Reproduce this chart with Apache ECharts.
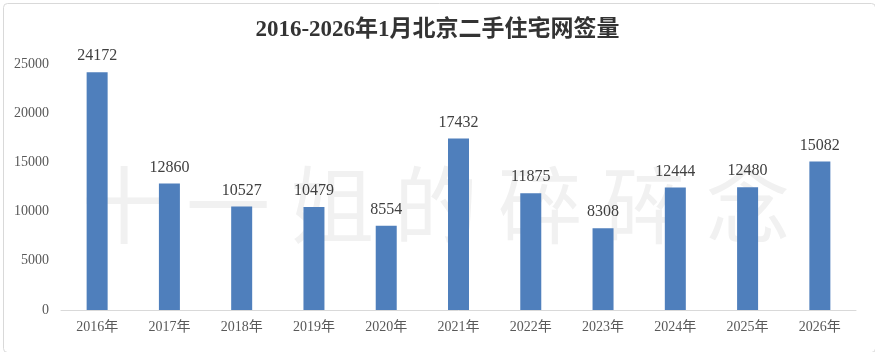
<!DOCTYPE html>
<html>
<head>
<meta charset="utf-8">
<script src="https://cdn.jsdelivr.net/npm/echarts@6/dist/echarts.min.js"></script>
<style>
html,body{margin:0;padding:0;background:#fff;}
#main{width:875px;height:352px;}
</style>
</head>
<body>
<div id="main"></div>
<script>
// 年份
var years = ['2016年','2017年','2018年','2019年','2020年','2021年','2022年','2023年','2024年','2025年','2026年'];
// 1月网签量
var deals = [24172, 12860, 10527, 10479, 8554, 17432, 11875, 8308, 12444, 12480, 15082];
var titleText = '2016-2026年1月北京二手住宅网签量';
var markText = '十一姐的碎碎念';

var serif = '"Liberation Serif", "Noto Sans CJK SC", serif';

//水印，逐字摆放
var graphics = [{
	type: 'rect', left: 1, top: 1, z: -10,
	shape: { width: 872, height: 349, r: 4 },
	style: { fill: 'none', stroke: '#d9d9d9', lineWidth: 1 }
}];
markText.split('').forEach(function(ch, i) {
	graphics.push({
		type: 'text', z: -5,
		x: 124 + i * 104, y: 205,
		style: {
			text: ch, font: '84px "Noto Sans CJK SC"', fill: '#f1f1f1',
			align: 'center', verticalAlign: 'middle'
		}
	});
});

var myChart = echarts.init(document.getElementById('main'));
var option = {
	backgroundColor: '#fff',
	animation: false,
	title: {
		text: titleText,
		left: 'center',
		top: 14,
		textStyle: { fontFamily: serif, fontSize: 23, fontWeight: 'bold', color: '#333' }
	},
	graphic: graphics,
	grid: { left: 61, right: 19, top: 64, bottom: 42 },
	xAxis: {
		type: 'category',
		data: years,
		axisLine: { lineStyle: { color: '#d9d9d9' } },
		axisTick: { show: false },
		axisLabel: { fontFamily: serif, fontSize: 14, color: '#595959', margin: 10 }
	},
	yAxis: {
		type: 'value',
		min: 0, max: 25000, interval: 5000,
		axisLine: { show: false },
		axisTick: { show: false },
		splitLine: { show: false },
		axisLabel: {
			fontFamily: serif, fontSize: 14, color: '#595959', margin: 12,
			formatter: function(v) { return String(v); }
		}
	},
	series: [{
		type: 'bar',
		data: deals,
		barWidth: 21,
		itemStyle: { color: '#4f7fbc' },
		label: {
			show: true, position: 'top', distance: 8,
			fontFamily: serif, fontSize: 16, color: '#404040'
		}
	}]
};
myChart.setOption(option);
</script>
</body>
</html>
